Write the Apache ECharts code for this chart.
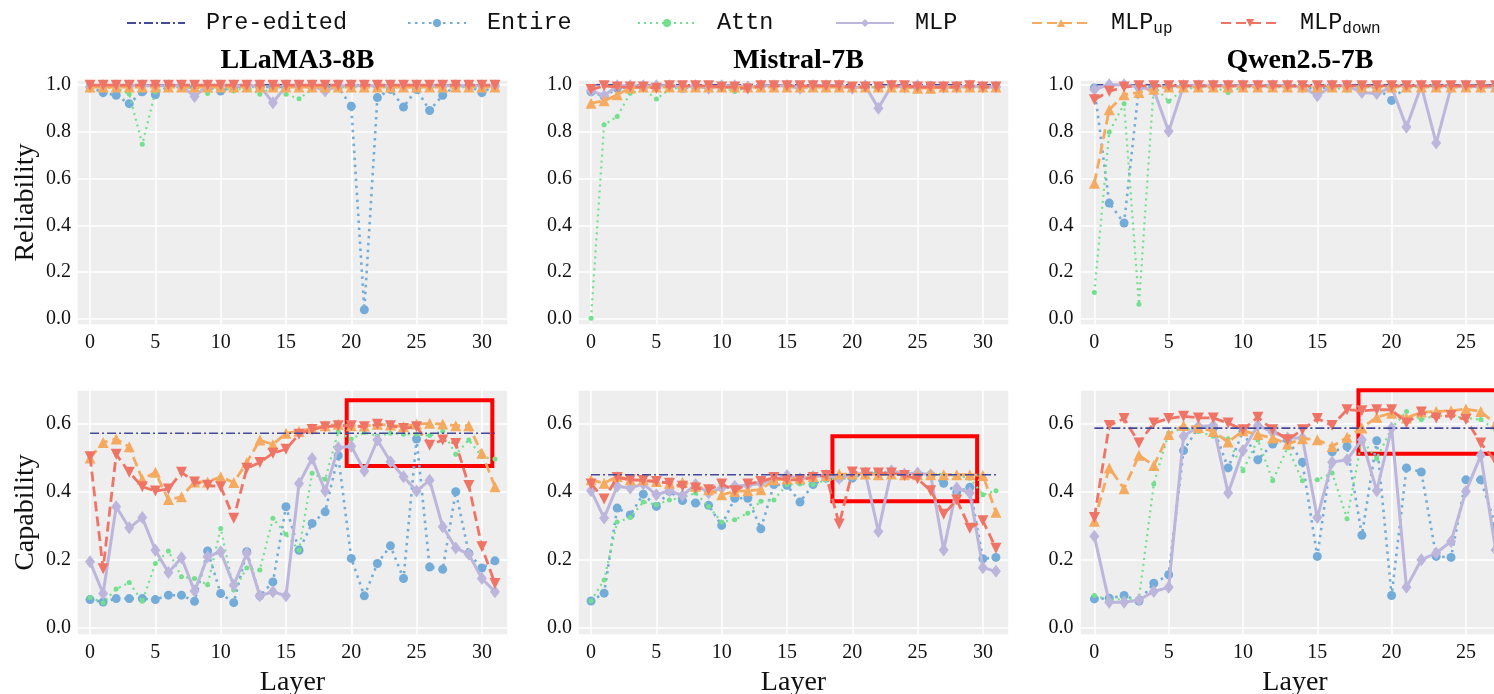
<!DOCTYPE html>
<html><head><meta charset="utf-8">
<script src="https://cdn.jsdelivr.net/npm/echarts@6/dist/echarts.min.js"></script>
<style>html,body{margin:0;padding:0;background:#fff}#c{width:1494px;height:694px}</style>
</head><body><div id="c"></div>
<script>
// ---------------- DATA ----------------
const models = ['LLaMA3-8B', 'Mistral-7B', 'Qwen2.5-7B'];
const layerCounts = [32, 32, 28];
const seriesNames = ['Pre-edited', 'Entire', 'Attn', 'MLP', 'MLPup', 'MLPdown'];
const rowNames = ['Reliability', 'Capability'];

// Reliability (top row)
const llamaRelPre = 1.0;
const llamaRelEntire = [0.99,0.966,0.955,0.919,0.97,0.957,0.995,0.995,0.99,0.99,0.973,0.99,0.995,0.99,0.99,0.99,0.995,0.99,0.99,0.99,0.908,0.04,0.945,0.98,0.905,0.98,0.89,0.955,0.995,0.995,0.966,0.995];
const llamaRelAttn = [0.99,0.99,0.985,0.96,0.746,0.97,0.99,0.99,0.985,0.962,0.99,0.973,0.99,0.959,0.99,0.959,0.94,0.98,0.99,0.99,0.99,0.99,0.99,0.99,0.99,0.99,0.99,0.99,0.99,0.99,0.99,0.99];
const llamaRelMlp = [0.99,0.995,0.995,0.995,0.995,0.995,0.995,0.995,0.95,0.995,0.995,0.995,0.995,0.995,0.923,0.995,0.995,0.995,0.973,0.995,0.995,0.995,0.995,0.995,0.995,0.995,0.995,0.995,0.995,0.995,0.995,0.995];
const llamaRelMlpUp = [0.99,0.99,0.99,0.99,0.99,0.99,0.99,0.99,0.99,0.99,0.99,0.99,0.99,0.99,0.99,0.99,0.99,0.99,0.99,0.99,0.99,0.99,0.99,0.99,0.99,0.99,0.99,0.99,0.99,0.99,0.99,0.99];
const llamaRelMlpDown = [0.998,0.998,0.998,0.998,0.998,0.998,0.998,0.998,0.998,0.998,0.998,0.998,0.998,0.998,0.998,0.998,0.998,0.998,0.998,0.998,0.998,0.998,0.998,0.998,0.998,0.998,0.998,0.998,0.998,0.998,0.998,0.998];

const mistralRelPre = 1.0;
const mistralRelEntire = [0.97,0.95,0.985,0.99,0.99,0.99,0.995,0.985,0.99,0.99,0.99,0.99,0.99,0.995,0.995,0.995,0.99,0.995,0.995,0.995,0.99,0.99,0.99,0.995,0.995,0.99,0.995,0.99,0.99,0.99,0.99,0.99];
const mistralRelAttn = [0.004,0.829,0.864,0.964,0.98,0.939,0.98,0.99,0.99,0.99,0.99,0.971,0.99,0.99,0.995,0.995,0.99,0.99,0.99,0.99,0.99,0.99,0.99,0.99,0.99,0.99,0.99,0.99,0.99,0.99,0.99,0.99];
const mistralRelMlp = [0.975,0.953,0.995,0.995,0.995,0.995,0.995,0.99,0.995,0.985,0.995,0.995,0.99,0.995,0.995,0.995,0.985,0.995,0.995,0.995,0.985,0.995,0.9,0.995,0.99,0.995,0.99,0.99,0.99,0.995,0.99,0.99];
const mistralRelMlpUp = [0.921,0.931,0.957,0.986,0.99,0.99,0.99,0.99,0.99,0.99,0.99,0.99,0.99,0.99,0.99,0.99,0.99,0.99,0.99,0.99,0.99,0.99,0.99,0.99,0.99,0.985,0.985,0.99,0.99,0.99,0.99,0.99];
const mistralRelMlpDown = [0.979,0.995,0.99,0.99,0.99,0.985,0.995,0.995,0.995,0.995,0.99,0.99,0.982,0.995,0.995,0.995,0.995,0.995,0.995,0.995,0.99,0.99,0.99,0.995,0.995,0.99,0.99,0.99,0.99,0.995,0.99,0.99];

const qwenRelPre = 1.0;
const qwenRelEntire = [0.986,0.495,0.41,0.99,0.99,0.99,0.995,0.995,0.995,0.995,0.995,0.995,0.995,0.995,0.99,0.98,0.995,0.995,0.99,0.99,0.933,0.995,0.995,0.995,0.995,0.995,0.995,0.995];
const qwenRelAttn = [0.114,0.797,0.919,0.064,0.995,0.929,0.98,0.99,0.99,0.967,0.99,0.99,0.99,0.99,0.99,0.99,0.99,0.976,0.99,0.99,0.99,0.99,0.99,0.99,0.99,0.99,0.99,0.99];
const qwenRelMlp = [0.979,1.0,1.0,0.99,0.976,0.801,0.995,0.995,0.995,0.995,0.995,0.995,0.995,0.995,0.99,0.953,0.995,0.995,0.967,0.962,0.99,0.819,0.995,0.751,0.99,0.995,0.99,0.99];
const qwenRelMlpUp = [0.58,0.893,0.957,0.967,0.981,0.99,0.99,0.99,0.99,0.99,0.99,0.99,0.99,0.99,0.99,0.99,0.99,0.99,0.99,0.99,0.99,0.99,0.99,0.99,0.99,0.99,0.99,0.99];
const qwenRelMlpDown = [0.936,0.972,0.99,0.995,0.995,0.995,0.995,0.995,0.995,0.995,0.995,0.995,0.995,0.995,0.995,0.995,0.995,0.995,0.995,0.995,0.995,0.995,0.995,0.995,0.995,0.995,0.995,0.995];

// Capability (bottom row)
const llamaCapPre = 0.573;
const llamaCapEntire = [0.084,0.077,0.087,0.087,0.087,0.084,0.097,0.097,0.079,0.227,0.102,0.075,0.225,0.095,0.136,0.357,0.229,0.308,0.342,0.507,0.205,0.095,0.19,0.242,0.146,0.556,0.18,0.173,0.401,0.22,0.177,0.198];
const llamaCapAttn = [0.09,0.075,0.115,0.134,0.079,0.19,0.227,0.151,0.146,0.128,0.293,0.112,0.177,0.171,0.323,0.276,0.229,0.455,0.438,0.577,0.556,0.575,0.565,0.573,0.57,0.57,0.566,0.579,0.511,0.553,0.504,0.497];
const llamaCapMlp = [0.195,0.102,0.357,0.295,0.325,0.229,0.164,0.207,0.109,0.21,0.225,0.126,0.22,0.095,0.107,0.095,0.425,0.499,0.403,0.53,0.535,0.462,0.553,0.489,0.445,0.403,0.435,0.298,0.236,0.217,0.146,0.107];
const llamaCapMlpUp = [0.50,0.546,0.556,0.533,0.438,0.458,0.378,0.386,0.43,0.43,0.445,0.428,0.487,0.553,0.54,0.573,0.579,0.587,0.595,0.599,0.595,0.594,0.599,0.597,0.592,0.6,0.602,0.6,0.595,0.595,0.514,0.416];
const llamaCapMlpDown = [0.504,0.175,0.511,0.458,0.416,0.403,0.409,0.458,0.43,0.42,0.416,0.323,0.47,0.487,0.514,0.526,0.57,0.584,0.592,0.595,0.595,0.592,0.599,0.595,0.587,0.592,0.538,0.553,0.543,0.419,0.239,0.131];

const mistralCapPre = 0.451;
const mistralCapEntire = [0.08,0.103,0.353,0.333,0.394,0.358,0.402,0.375,0.368,0.361,0.302,0.382,0.382,0.292,0.422,0.42,0.371,0.422,0.441,0.441,0.441,0.456,0.456,0.458,0.452,0.452,0.45,0.426,0.40,0.414,0.204,0.208];
const mistralCapAttn = [0.08,0.142,0.312,0.325,0.371,0.363,0.377,0.384,0.397,0.358,0.312,0.319,0.338,0.373,0.377,0.422,0.424,0.422,0.436,0.441,0.449,0.456,0.456,0.456,0.456,0.456,0.456,0.452,0.449,0.441,0.392,0.404];
const mistralCapMlp = [0.404,0.324,0.417,0.412,0.424,0.392,0.404,0.39,0.422,0.397,0.412,0.417,0.42,0.426,0.436,0.449,0.439,0.446,0.449,0.441,0.451,0.456,0.284,0.463,0.453,0.456,0.451,0.23,0.412,0.397,0.178,0.167];
const mistralCapMlpUp = [0.436,0.426,0.446,0.436,0.436,0.431,0.426,0.429,0.417,0.407,0.392,0.402,0.404,0.407,0.436,0.439,0.441,0.446,0.449,0.453,0.453,0.453,0.451,0.453,0.451,0.451,0.451,0.451,0.451,0.451,0.449,0.341];
const mistralCapMlpDown = [0.424,0.38,0.443,0.436,0.434,0.431,0.426,0.417,0.412,0.407,0.424,0.404,0.424,0.431,0.443,0.436,0.436,0.443,0.449,0.306,0.459,0.456,0.456,0.456,0.449,0.439,0.404,0.335,0.377,0.294,0.316,0.235];

const qwenCapPre = 0.588;
const qwenCapEntire = [0.086,0.088,0.096,0.08,0.132,0.157,0.522,0.59,0.588,0.471,0.578,0.495,0.541,0.554,0.488,0.211,0.518,0.534,0.273,0.551,0.096,0.471,0.459,0.211,0.208,0.436,0.436,0.3];
const qwenCapAttn = [0.096,0.083,0.086,0.088,0.424,0.574,0.588,0.578,0.564,0.557,0.463,0.554,0.433,0.531,0.433,0.436,0.456,0.322,0.554,0.498,0.588,0.637,0.613,0.625,0.623,0.618,0.613,0.583];
const qwenCapMlp = [0.27,0.076,0.076,0.083,0.108,0.12,0.564,0.593,0.596,0.397,0.522,0.596,0.576,0.559,0.559,0.325,0.488,0.495,0.554,0.404,0.588,0.12,0.201,0.221,0.255,0.402,0.508,0.23];
const qwenCapMlpUp = [0.314,0.471,0.41,0.508,0.478,0.569,0.596,0.59,0.578,0.547,0.58,0.569,0.559,0.541,0.557,0.554,0.534,0.561,0.588,0.62,0.632,0.618,0.635,0.637,0.639,0.644,0.637,0.6];
const qwenCapMlpDown = [0.325,0.596,0.616,0.544,0.603,0.616,0.623,0.618,0.618,0.603,0.583,0.62,0.583,0.554,0.583,0.616,0.596,0.642,0.639,0.642,0.642,0.603,0.635,0.618,0.625,0.613,0.544,0.49];

// highlight boxes on the capability row: [xFrom, xTo, yFrom, yTo] in data units
const llamaBox = [19.65, 30.8, 0.477, 0.670];
const mistralBox = [18.48, 29.56, 0.373, 0.564];
const qwenBox = [17.77, 27.4, 0.513, 0.699];

// ---------------- BUILD ----------------
const panelData = [
  [ [llamaRelPre, llamaRelEntire, llamaRelAttn, llamaRelMlp, llamaRelMlpUp, llamaRelMlpDown],
    [mistralRelPre, mistralRelEntire, mistralRelAttn, mistralRelMlp, mistralRelMlpUp, mistralRelMlpDown],
    [qwenRelPre, qwenRelEntire, qwenRelAttn, qwenRelMlp, qwenRelMlpUp, qwenRelMlpDown] ],
  [ [llamaCapPre, llamaCapEntire, llamaCapAttn, llamaCapMlp, llamaCapMlpUp, llamaCapMlpDown],
    [mistralCapPre, mistralCapEntire, mistralCapAttn, mistralCapMlp, mistralCapMlpUp, mistralCapMlpDown],
    [qwenCapPre, qwenCapEntire, qwenCapAttn, qwenCapMlp, qwenCapMlpUp, qwenCapMlpDown] ]
];
const boxes = [llamaBox, mistralBox, qwenBox];

const SERIF = 'Liberation Serif, Times New Roman, serif';
const MONO = 'Liberation Mono, Courier New, monospace';
const lefts = [77, 578, 1079.5];
const W = 431, H = 245;
const tops = [80, 390];
const yRanges = [[-0.025, 1.02], [-0.02, 0.70]];

const styles = {
  'Pre-edited': {color: '#45499b', lineStyle: {width: 1.6, type: [9, 3, 2, 3]}, symbol: 'none', z: 2},
  'Entire': {color: '#73acd8', lineStyle: {width: 2.6, type: [2.5, 4.5]}, symbol: 'circle', symbolSize: 9, z: 3},
  'Attn': {color: '#72e08c', lineStyle: {width: 2.2, type: [2, 4]}, symbol: 'circle', symbolSize: 5, z: 4},
  'MLP': {color: '#bcb5dc', lineStyle: {width: 3}, symbol: 'diamond', symbolSize: [10, 13], z: 5},
  'MLPup': {color: '#f5aa5f', lineStyle: {width: 2.8, type: [10, 5]}, symbol: 'triangle', symbolSize: 11, z: 6},
  'MLPdown': {color: '#ef7466', lineStyle: {width: 2.8, type: [10, 5]}, symbol: 'triangle', symbolRotate: 180, symbolSize: 11, z: 7}
};

const grid = [], xAxis = [], yAxis = [], series = [], title = [];
for (let r = 0; r < 2; r++) {
  for (let c = 0; c < 3; c++) {
    const gi = r * 3 + c;
    const n = layerCounts[c];
    grid.push({left: lefts[c], top: tops[r], width: W, height: H, show: true,
      backgroundColor: '#eeeeee', borderWidth: 0, containLabel: false, outerBoundsMode: 'none'});
    xAxis.push({gridIndex: gi, type: 'value', min: -1, max: n, minInterval: 5, maxInterval: 5,
      axisLine: {show: false}, axisTick: {show: false},
      splitLine: {show: true, lineStyle: {color: '#ffffff', width: 1.5}},
      axisLabel: {fontFamily: SERIF, fontSize: 20, color: '#111', margin: 8,
        formatter: v => (Math.abs(v % 5) < 1e-9 && v >= 0 && v < n) ? String(v) : ''},
      name: r === 1 ? 'Layer' : '', nameLocation: 'middle', nameGap: 34,
      nameTextStyle: {fontFamily: SERIF, fontSize: 28, color: '#111'}
    });
    yAxis.push({gridIndex: gi, type: 'value', min: yRanges[r][0], max: yRanges[r][1], minInterval: 0.2, maxInterval: 0.2,
      axisLine: {show: false}, axisTick: {show: false},
      splitLine: {show: true, lineStyle: {color: '#ffffff', width: 1.5}},
      axisLabel: {fontFamily: SERIF, fontSize: 20, color: '#111', margin: 6,
        formatter: v => { const k = v * 5; return (Math.abs(k - Math.round(k)) < 1e-6 && v > -1e-9) ? v.toFixed(1) : ''; }},
      name: c === 0 ? rowNames[r] : '', nameLocation: 'middle', nameGap: 37,
      nameTextStyle: {fontFamily: SERIF, fontSize: 28, color: '#111'}
    });
    const d = panelData[r][c];
    seriesNames.forEach((nm, k) => {
      const st = styles[nm];
      let data;
      if (k === 0) data = [[0, d[0]], [n - 1, d[0]]];
      else data = d[k].map((v, i) => [i, v]);
      const s = {
        type: 'line', name: nm, xAxisIndex: gi, yAxisIndex: gi, data,
        color: st.color, symbol: st.symbol, symbolSize: st.symbolSize || 0,
        symbolRotate: st.symbolRotate || 0, showSymbol: st.symbol !== 'none',
        lineStyle: Object.assign({color: st.color}, st.lineStyle),
        itemStyle: {color: st.color}, z: st.z, silent: true, animation: false,
        emphasis: {disabled: true}
      };
      if (r === 1 && k === 0) {
        const b = boxes[c];
        s.markArea = {silent: true, label: {show: false},
          itemStyle: {color: 'rgba(0,0,0,0)', borderColor: '#ff0000', borderWidth: 4},
          data: [[{coord: [b[0], b[3]]}, {coord: [b[1], b[2]]}]]};
        s.z = 10;
      }
      series.push(s);
    });
    if (r === 0) {
      title.push({text: models[c], left: lefts[c] + W / 2, top: 42, textAlign: 'center',
        textStyle: {fontFamily: SERIF, fontWeight: 'bold', fontSize: 28, color: '#000'}});
    }
  }
}

const legendX = [121, 402, 632, 830, 1026, 1215];
const legend = seriesNames.map((nm, k) => {
  const lg = {
    data: [nm], left: legendX[k], top: 6, itemWidth: 58, itemHeight: 10, selectedMode: false,
    formatter: name => name === 'MLPup' ? 'MLP{s|up}' : (name === 'MLPdown' ? 'MLP{s|down}' : name),
    textStyle: {fontFamily: MONO, fontSize: 23.5, color: '#111', padding: [0, 0, 0, 16],
      rich: {s: {fontFamily: MONO, fontSize: 16, color: '#111', padding: [12, 0, 0, 0]}}}
  };
  if (nm === 'Pre-edited') lg.itemStyle = {color: 'rgba(0,0,0,0)', borderWidth: 0, opacity: 0};
  return lg;
});

const chart = echarts.init(document.getElementById('c'), null, {renderer: 'canvas'});
chart.setOption({animation: false, backgroundColor: '#ffffff', title, legend, grid, xAxis, yAxis, series});
</script></body></html>
